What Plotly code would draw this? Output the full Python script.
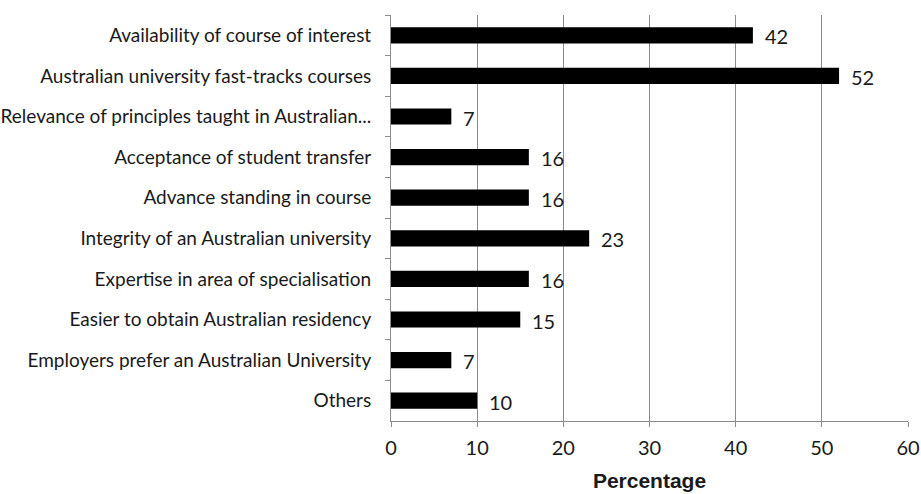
import plotly.graph_objects as go

categories = [
    "Availability of course of interest",
    "Australian university fast-tracks courses",
    "Relevance of principles taught in Australian...",
    "Acceptance of student transfer",
    "Advance standing in course",
    "Integrity of an Australian university",
    "Expertise in area of specialisation",
    "Easier to obtain Australian residency",
    "Employers prefer an Australian University",
    "Others",
]
percentages = [42, 52, 7, 16, 16, 23, 16, 15, 7, 10]
x_ticks = [0, 10, 20, 30, 40, 50, 60]

label_font = "Lato, 'Open Sans', sans-serif"
text_color = "#1a1a1a"
grid_color = "#8c8c8c"

fig = go.Figure()
fig.add_trace(go.Bar(
    x=percentages,
    y=categories,
    orientation="h",
    marker=dict(color="black", line=dict(width=0)),
    hoverinfo="x+y",
))

# value labels just past the end of each bar
for cat, val in zip(categories, percentages):
    fig.add_annotation(
        x=val, y=cat, text=str(val), showarrow=False,
        xanchor="left", xshift=10, yshift=-1,
        font=dict(family=label_font, size=20, color=text_color),
    )

fig.update_layout(
    width=921, height=494,
    margin=dict(l=391, r=13, t=15, b=73),
    paper_bgcolor="white", plot_bgcolor="white",
    bargap=0.6,
    showlegend=False,
    xaxis=dict(
        range=[0, 60], tickvals=x_ticks,
        showgrid=True, gridcolor=grid_color, gridwidth=1,
        showline=True, linecolor=grid_color, linewidth=1,
        ticks="outside", ticklen=5, tickcolor=grid_color,
        ticklabelstandoff=4,
        tickfont=dict(family=label_font, size=20, color=text_color),
        zeroline=False,
        automargin=False,
        title=dict(text="<b>Percentage</b>", standoff=15,
                   font=dict(family="Liberation Sans, Arial, sans-serif", size=21, color=text_color)),
    ),
    yaxis=dict(
        autorange="reversed",
        showline=True, linecolor=grid_color, linewidth=1,
        ticks="outside", ticklen=5, tickcolor=grid_color,
        tickson="boundaries",
        showgrid=False,
        automargin=False,
        ticklabelstandoff=15,
        tickfont=dict(family=label_font, size=19, color=text_color),
    ),
)

fig.write_html("out.html")
